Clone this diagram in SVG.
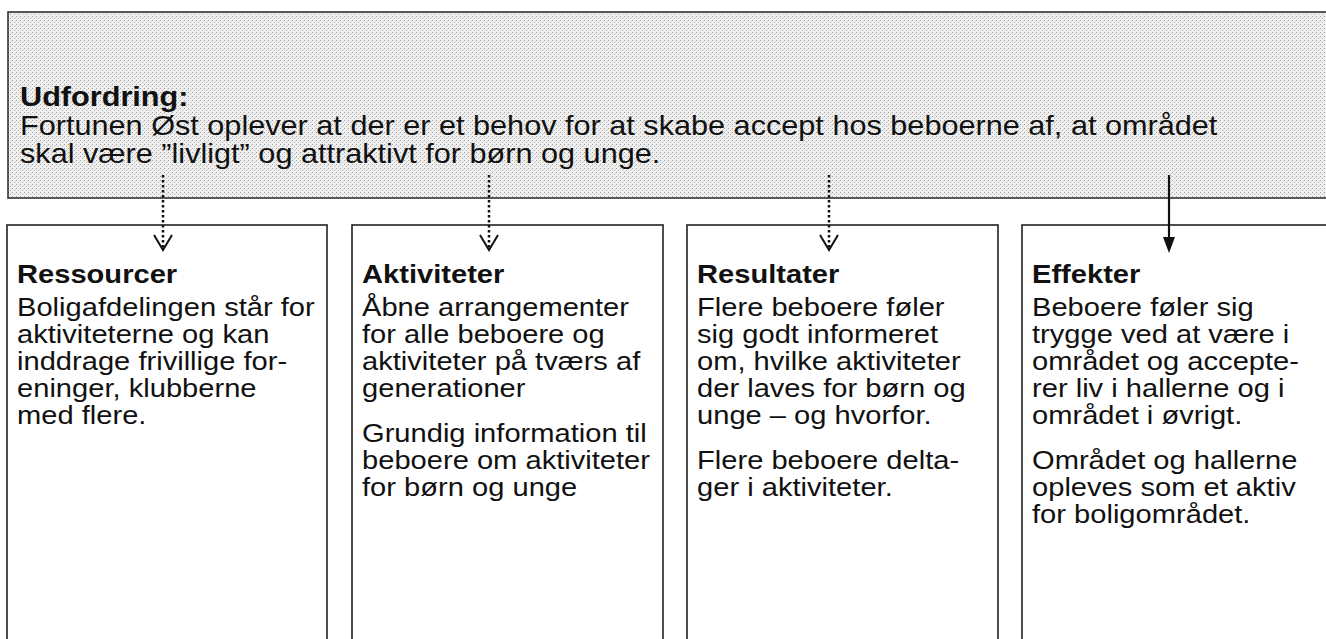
<svg xmlns="http://www.w3.org/2000/svg" width="1326" height="639" viewBox="0 0 1326 639">
<defs>
<pattern id="stip" width="4" height="4" patternUnits="userSpaceOnUse">
<rect width="4" height="4" fill="#f0f0f0"/>
<rect x="0" y="0" width="1" height="1" fill="#a0a0a0"/>
<rect x="2" y="2" width="1" height="1" fill="#b8b8b8"/>
<rect x="3" y="1" width="1" height="1" fill="#d6d6d6"/>
</pattern>
</defs>
<style>
.box{fill:#ffffff;stroke:#222;stroke-width:1.6}
.t{font-family:"Liberation Sans",Arial,sans-serif;fill:#111}
.top{font-size:27px}
.body{font-size:26px}
.b{font-weight:bold}
.dot{stroke:#111;stroke-width:2.5;stroke-dasharray:2.5 2.5;fill:none}
.head{stroke:#111;stroke-width:2;fill:none}
.solid{stroke:#111;stroke-width:2.2;fill:none}
</style>
<g id="udfordring">
<rect x="8" y="12" width="1340" height="186" fill="url(#stip)" stroke="#333" stroke-width="1.6"/>
<g transform="translate(20,0) scale(1.135,1)">
<text class="t top b" x="0" y="106">Udfordring:</text>
<text class="t top" x="0" y="135">Fortunen Øst oplever at der er et behov for at skabe accept hos beboerne af, at området</text>
<text class="t top" x="0" y="163">skal være ”livligt” og attraktivt for børn og unge.</text>
</g>
</g>
<g id="ressourcer">
<rect class="box" x="7" y="225" width="320" height="430"/>
<g transform="translate(17,0) scale(1.12,1)">
<text class="t body b" x="0" y="283">Ressourcer</text>
<text class="t body" x="0" y="316"><tspan x="0">Boligafdelingen står for</tspan><tspan x="0" dy="27">aktiviteterne og kan</tspan><tspan x="0" dy="27">inddrage frivillige for-</tspan><tspan x="0" dy="27">eninger, klubberne</tspan><tspan x="0" dy="27">med flere.</tspan></text>
</g>
</g>
<g id="aktiviteter">
<rect class="box" x="352" y="225" width="311" height="430"/>
<g transform="translate(362,0) scale(1.12,1)">
<text class="t body b" x="0" y="283">Aktiviteter</text>
<text class="t body" x="0" y="316"><tspan x="0">Åbne arrangementer</tspan><tspan x="0" dy="27">for alle beboere og</tspan><tspan x="0" dy="27">aktiviteter på tværs af</tspan><tspan x="0" dy="27">generationer</tspan><tspan x="0" dy="45">Grundig information til</tspan><tspan x="0" dy="27">beboere om aktiviteter</tspan><tspan x="0" dy="27">for børn og unge</tspan></text>
</g>
</g>
<g id="resultater">
<rect class="box" x="687" y="225" width="311" height="430"/>
<g transform="translate(697,0) scale(1.12,1)">
<text class="t body b" x="0" y="283">Resultater</text>
<text class="t body" x="0" y="316"><tspan x="0">Flere beboere føler</tspan><tspan x="0" dy="27">sig godt informeret</tspan><tspan x="0" dy="27">om, hvilke aktiviteter</tspan><tspan x="0" dy="27">der laves for børn og</tspan><tspan x="0" dy="27">unge – og hvorfor.</tspan><tspan x="0" dy="45">Flere beboere delta-</tspan><tspan x="0" dy="27">ger i aktiviteter.</tspan></text>
</g>
</g>
<g id="effekter">
<rect class="box" x="1022" y="225" width="330" height="430"/>
<g transform="translate(1032,0) scale(1.12,1)">
<text class="t body b" x="0" y="283">Effekter</text>
<text class="t body" x="0" y="316"><tspan x="0">Beboere føler sig</tspan><tspan x="0" dy="27">trygge ved at være i</tspan><tspan x="0" dy="27">området og accepte-</tspan><tspan x="0" dy="27">rer liv i hallerne og i</tspan><tspan x="0" dy="27">området i øvrigt.</tspan><tspan x="0" dy="45">Området og hallerne</tspan><tspan x="0" dy="27">opleves som et aktiv</tspan><tspan x="0" dy="27">for boligområdet.</tspan></text>
</g>
</g>
<g id="connectors">
<line class="dot" x1="163" y1="175" x2="163" y2="249"/>
<polyline class="head" points="154,235 163,250 172,235"/>
<line class="dot" x1="489" y1="175" x2="489" y2="249"/>
<polyline class="head" points="480,235 489,250 498,235"/>
<line class="dot" x1="829" y1="175" x2="829" y2="249"/>
<polyline class="head" points="820,235 829,250 838,235"/>
<line class="solid" x1="1169" y1="175" x2="1169" y2="240"/>
<polygon points="1163,237 1175,237 1169,253" fill="#111"/>
</g>
</svg>
